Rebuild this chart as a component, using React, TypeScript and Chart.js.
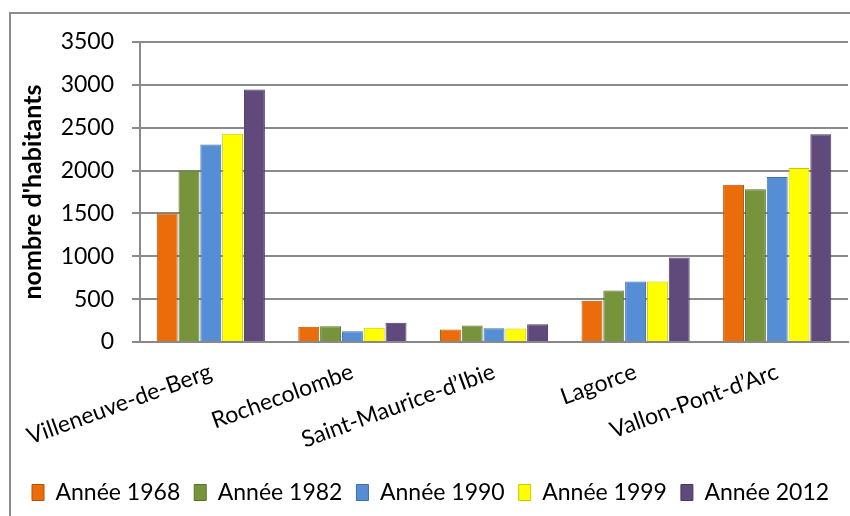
import React, { useEffect, useRef } from "react";
import { Chart, registerables } from "chart.js";

Chart.register(...registerables);

const communes = ["Villeneuve-de-Berg", "Rochecolombe", "Saint-Maurice-d\u2019Ibie", "Lagorce", "Vallon-Pont-d\u2019Arc"];
const annee1968 = [1500, 177, 145, 482, 1835];
const annee1982 = [2000, 184, 193, 600, 1783];
const annee1990 = [2305, 125, 160, 706, 1925];
const annee1999 = [2430, 165, 157, 706, 2030];
const annee2012 = [2945, 224, 208, 985, 2425];
const seriesLabels = ["Ann\u00e9e 1968", "Ann\u00e9e 1982", "Ann\u00e9e 1990", "Ann\u00e9e 1999", "Ann\u00e9e 2012"];
const yTicks = [0, 500, 1000, 1500, 2000, 2500, 3000, 3500];

const fills = ["#EA6C0A", "#77933C", "#558ED5", "#FFFF00", "#604A7B"];
const borders = ["#B45208", "#5A7030", "#3F6FA8", "#C8C800", "#4A3A60"];
const FONT = "Lato, 'Open Sans', sans-serif";

export default function App() {
  const ref = useRef<HTMLCanvasElement | null>(null);
  useEffect(() => {
    document.body.style.margin = "0";
    document.body.style.overflow = "hidden";
    const values = [annee1968, annee1982, annee1990, annee1999, annee2012];
    const chart = new Chart(ref.current as HTMLCanvasElement, {
      type: "bar",
      data: {
        labels: communes,
        datasets: values.map((v, i) => ({
          label: seriesLabels[i],
          data: v,
          backgroundColor: fills[i],
          borderColor: borders[i],
          borderWidth: 1,
          categoryPercentage: 0.77,
          barPercentage: 0.96,
        })),
      },
      options: {
        responsive: false,
        animation: false,
        layout: { padding: { left: 18, right: 2, top: 42, bottom: 2 } },
        plugins: {
          tooltip: { enabled: false },
          legend: {
            position: "bottom",
            align: "start",
            labels: {
              color: "#000",
              font: { family: FONT, size: 23 },
              boxWidth: 12,
              boxHeight: 16,
              padding: 14,
            },
          },
        },
        scales: {
          x: {
            grid: { display: false },
            border: { color: "#888", width: 2 },
            ticks: {
              color: "#000",
              font: { family: FONT, size: 23 },
              minRotation: 20,
              maxRotation: 20,
              padding: 8,
            },
            afterFit: (s: any) => { s.height = 125; },
          },
          y: {
            min: 0,
            max: 3500,
            afterBuildTicks: (s: any) => { s.ticks = yTicks.map((v) => ({ value: v })); },
            grid: { color: "#8a8a8a", lineWidth: 2, tickLength: 8 },
            border: { color: "#8a8a8a", width: 2 },
            ticks: {
              color: "#000",
              font: { family: FONT, size: 23 },
              padding: 18,
              callback: (v: any) => String(v),
            },
            title: {
              display: true,
              text: "nombre d'habitants",
              color: "#000",
              font: { family: FONT, size: 25, weight: "bold" },
              padding: { top: 0, bottom: 4 },
            },
            afterFit: (s: any) => { s.width = 122; },
          },
        },
      },
    });
    return () => chart.destroy();
  }, []);
  return (
    <div style={{ position: "relative", width: 850, height: 516 }}>
      <canvas ref={ref} width={850} height={516} style={{ position: "absolute", left: 0, top: 0 }} />
      <div style={{ position: "absolute", left: 9, top: 12, width: 900, height: 600, borderLeft: "2px solid #8c8c8c", borderTop: "2px solid #8c8c8c", pointerEvents: "none" }} />
    </div>
  );
}
